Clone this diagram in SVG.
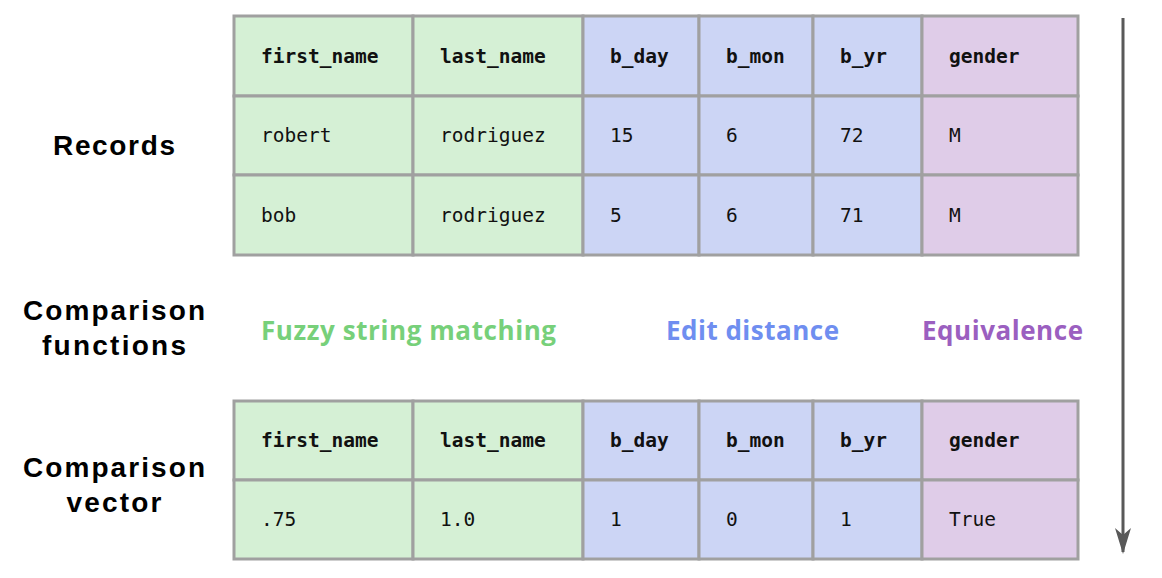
<svg xmlns="http://www.w3.org/2000/svg" width="1162" height="578" viewBox="0 0 1162 578">
  <style>
    .g { fill: #d5f0d5; }
    .b { fill: #ccd5f5; }
    .p { fill: #dfcce8; }
    .cell { stroke: #a0a0a0; stroke-width: 3; }
    .hd { font-family: "DejaVu Sans Mono", "Liberation Mono", monospace; font-size: 19.5px; font-weight: bold; fill: #111; }
    .val { font-family: "DejaVu Sans Mono", "Liberation Mono", monospace; font-size: 19.5px; fill: #111; }
    .lbl { font-family: "Liberation Sans", Arial, sans-serif; font-size: 28px; font-weight: 700; fill: #000; text-anchor: middle; }
    .fn { font-family: "Open Sans", "Liberation Sans", sans-serif; font-size: 26px; font-weight: 700; }
    .conn { stroke: #595959; stroke-width: 3; fill: none; }
  </style>
  <defs>
    <marker id="arrowhead" viewBox="0 0 26 16" refX="24" refY="8" markerWidth="26" markerHeight="16" markerUnits="userSpaceOnUse" orient="auto">
      <path d="M0,0 L7,8 L0,16 L26,8 Z" fill="#595959"/>
    </marker>
  </defs>

  <rect width="1162" height="578" fill="#ffffff"/>

  <!-- Row labels -->
  <g id="label-records">
    <text class="lbl" x="114" y="155" textLength="122">Records</text>
  </g>
  <g id="label-functions">
    <text class="lbl" x="114" y="320" textLength="182">Comparison</text>
    <text class="lbl" x="114" y="355" textLength="144">functions</text>
  </g>
  <g id="label-vector">
    <text class="lbl" x="114" y="477" textLength="182">Comparison</text>
    <text class="lbl" x="114" y="512" textLength="95">vector</text>
  </g>

  <!-- Records table -->
  <g id="records-table">
    <rect class="g cell" x="234" y="16" width="179" height="80"/>
    <rect class="g cell" x="413" y="16" width="170" height="80"/>
    <rect class="b cell" x="583" y="16" width="116" height="80"/>
    <rect class="b cell" x="699" y="16" width="114" height="80"/>
    <rect class="b cell" x="813" y="16" width="109" height="80"/>
    <rect class="p cell" x="922" y="16" width="156" height="80"/>

    <rect class="g cell" x="234" y="96" width="179" height="79"/>
    <rect class="g cell" x="413" y="96" width="170" height="79"/>
    <rect class="b cell" x="583" y="96" width="116" height="79"/>
    <rect class="b cell" x="699" y="96" width="114" height="79"/>
    <rect class="b cell" x="813" y="96" width="109" height="79"/>
    <rect class="p cell" x="922" y="96" width="156" height="79"/>

    <rect class="g cell" x="234" y="175" width="179" height="80"/>
    <rect class="g cell" x="413" y="175" width="170" height="80"/>
    <rect class="b cell" x="583" y="175" width="116" height="80"/>
    <rect class="b cell" x="699" y="175" width="114" height="80"/>
    <rect class="b cell" x="813" y="175" width="109" height="80"/>
    <rect class="p cell" x="922" y="175" width="156" height="80"/>

    <text class="hd" x="261" y="63">first_name</text>
    <text class="hd" x="440" y="63">last_name</text>
    <text class="hd" x="610" y="63">b_day</text>
    <text class="hd" x="726" y="63">b_mon</text>
    <text class="hd" x="840" y="63">b_yr</text>
    <text class="hd" x="949" y="63">gender</text>

    <text class="val" x="261" y="142">robert</text>
    <text class="val" x="440" y="142">rodriguez</text>
    <text class="val" x="610" y="142">15</text>
    <text class="val" x="726" y="142">6</text>
    <text class="val" x="840" y="142">72</text>
    <text class="val" x="949" y="142">M</text>

    <text class="val" x="261" y="222">bob</text>
    <text class="val" x="440" y="222">rodriguez</text>
    <text class="val" x="610" y="222">5</text>
    <text class="val" x="726" y="222">6</text>
    <text class="val" x="840" y="222">71</text>
    <text class="val" x="949" y="222">M</text>
  </g>

  <!-- Comparison function names -->
  <g id="fn-fuzzy">
    <text class="fn" x="261" y="340" fill="#77d07a" textLength="295">Fuzzy string matching</text>
  </g>
  <g id="fn-edit">
    <text class="fn" x="666" y="340" fill="#6f8ef0" textLength="173">Edit distance</text>
  </g>
  <g id="fn-equiv">
    <text class="fn" x="922" y="340" fill="#9b5fc0" textLength="161">Equivalence</text>
  </g>

  <!-- Comparison vector table -->
  <g id="vector-table">
    <rect class="g cell" x="234" y="401" width="179" height="79"/>
    <rect class="g cell" x="413" y="401" width="170" height="79"/>
    <rect class="b cell" x="583" y="401" width="116" height="79"/>
    <rect class="b cell" x="699" y="401" width="114" height="79"/>
    <rect class="b cell" x="813" y="401" width="109" height="79"/>
    <rect class="p cell" x="922" y="401" width="156" height="79"/>

    <rect class="g cell" x="234" y="480" width="179" height="79"/>
    <rect class="g cell" x="413" y="480" width="170" height="79"/>
    <rect class="b cell" x="583" y="480" width="116" height="79"/>
    <rect class="b cell" x="699" y="480" width="114" height="79"/>
    <rect class="b cell" x="813" y="480" width="109" height="79"/>
    <rect class="p cell" x="922" y="480" width="156" height="79"/>

    <text class="hd" x="261" y="447">first_name</text>
    <text class="hd" x="440" y="447">last_name</text>
    <text class="hd" x="610" y="447">b_day</text>
    <text class="hd" x="726" y="447">b_mon</text>
    <text class="hd" x="840" y="447">b_yr</text>
    <text class="hd" x="949" y="447">gender</text>

    <text class="val" x="261" y="526">.75</text>
    <text class="val" x="440" y="526">1.0</text>
    <text class="val" x="610" y="526">1</text>
    <text class="val" x="726" y="526">0</text>
    <text class="val" x="840" y="526">1</text>
    <text class="val" x="949" y="526">True</text>
  </g>

  <!-- Flow arrow -->
  <g id="connectors">
    <line class="conn" x1="1123" y1="18" x2="1123" y2="552" marker-end="url(#arrowhead)"/>
  </g>
</svg>
